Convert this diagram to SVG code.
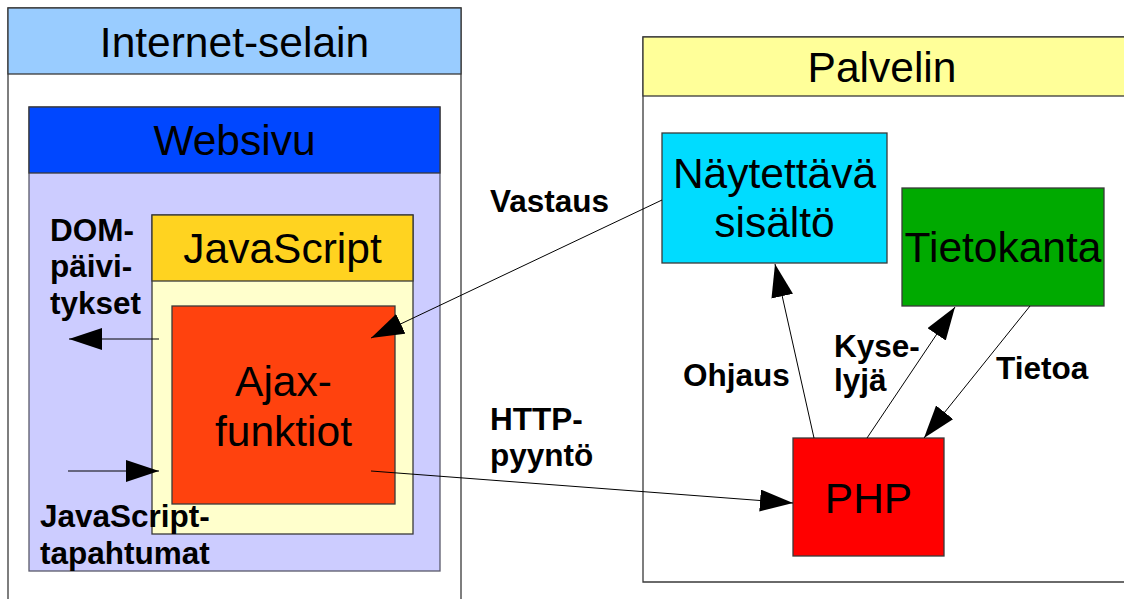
<svg xmlns="http://www.w3.org/2000/svg" width="1124" height="599" viewBox="0 0 1124 599">
<style>
.big{font-family:"Liberation Sans",Arial,sans-serif;font-size:42.5px;fill:#000;text-anchor:middle}
.lbl{font-family:"Liberation Sans",Arial,sans-serif;font-size:31.5px;font-weight:bold;fill:#000}
.bd{stroke:#3a3a3a;stroke-width:1.3}
.cn{stroke:#000;stroke-width:1;fill:none}
</style>
<defs>
<marker id="ah" markerUnits="userSpaceOnUse" markerWidth="34" markerHeight="24" refX="33" refY="11" orient="auto">
<path d="M0,0 L33,11 L0,22 Z" fill="#000"/>
</marker>
</defs>
<rect width="1124" height="599" fill="#fff"/>
<g id="internet-selain">
<path d="M8,599 V8 H461 V599" fill="#fff" class="bd"/>
<rect x="8" y="8" width="453" height="66" fill="#99ccff" class="bd"/>
<text class="big" x="234.5" y="57">Internet-selain</text>
</g>
<g id="websivu">
<rect x="29" y="107" width="411" height="464" fill="#ccccff" stroke="#5a5a6a" stroke-width="1.3"/>
<rect x="29" y="107" width="411" height="66" fill="#0047ff" class="bd"/>
<text class="big" x="234.5" y="155">Websivu</text>
</g>
<g id="javascript">
<rect x="152" y="215" width="261" height="319" fill="#ffffcc" class="bd"/>
<rect x="152" y="215" width="261" height="66" fill="#ffd320" class="bd"/>
<text class="big" x="282.5" y="263">JavaScript</text>
</g>
<g id="ajax">
<rect x="172" y="306" width="223" height="198" fill="#ff420e" class="bd"/>
<text class="big" x="283.5" y="396">Ajax-</text>
<text class="big" x="283.5" y="446">funktiot</text>
</g>
<g id="palvelin">
<path d="M1130,582 H643 V37 H1130" fill="#fff" class="bd"/>
<rect x="643" y="37" width="490" height="59" fill="#ffff99" class="bd"/>
<text class="big" x="882" y="82">Palvelin</text>
</g>
<g id="naytettava">
<rect x="662" y="133" width="225" height="130" fill="#00dcff" class="bd"/>
<text class="big" x="774.5" y="188">Näytettävä</text>
<text class="big" x="774.5" y="237">sisältö</text>
</g>
<g id="tietokanta">
<rect x="902" y="188" width="202" height="118" fill="#00aa00" class="bd"/>
<text class="big" x="1003" y="262">Tietokanta</text>
</g>
<g id="php">
<rect x="793" y="438" width="151" height="118" fill="#ff0000" class="bd"/>
<text class="big" x="868.5" y="513">PHP</text>
</g>
<g id="connectors">
<line class="cn" x1="662" y1="200" x2="371" y2="338" marker-end="url(#ah)"/>
<line class="cn" x1="159" y1="339" x2="69" y2="339" stroke="#555" marker-end="url(#ah)"/>
<line class="cn" x1="68" y1="471" x2="159" y2="471" marker-end="url(#ah)"/>
<line class="cn" x1="371" y1="471" x2="793" y2="503" marker-end="url(#ah)"/>
<line class="cn" x1="814" y1="438" x2="775" y2="264" marker-end="url(#ah)"/>
<line class="cn" x1="867" y1="438" x2="955" y2="307" marker-end="url(#ah)"/>
<line class="cn" x1="1030" y1="306" x2="924" y2="438" marker-end="url(#ah)"/>
</g>
<g id="labels">
<text class="lbl" x="50" y="241">DOM-</text>
<text class="lbl" x="50" y="277">päivi-</text>
<text class="lbl" x="50" y="314">tykset</text>
<text class="lbl" x="40" y="527">JavaScript-</text>
<text class="lbl" x="40" y="564">tapahtumat</text>
<text class="lbl" x="490" y="212">Vastaus</text>
<text class="lbl" x="490" y="430">HTTP-</text>
<text class="lbl" x="490" y="466">pyyntö</text>
<text class="lbl" x="683" y="386">Ohjaus</text>
<text class="lbl" x="834" y="357">Kyse-</text>
<text class="lbl" x="834" y="391">lyjä</text>
<text class="lbl" x="996" y="379">Tietoa</text>
</g>
</svg>
